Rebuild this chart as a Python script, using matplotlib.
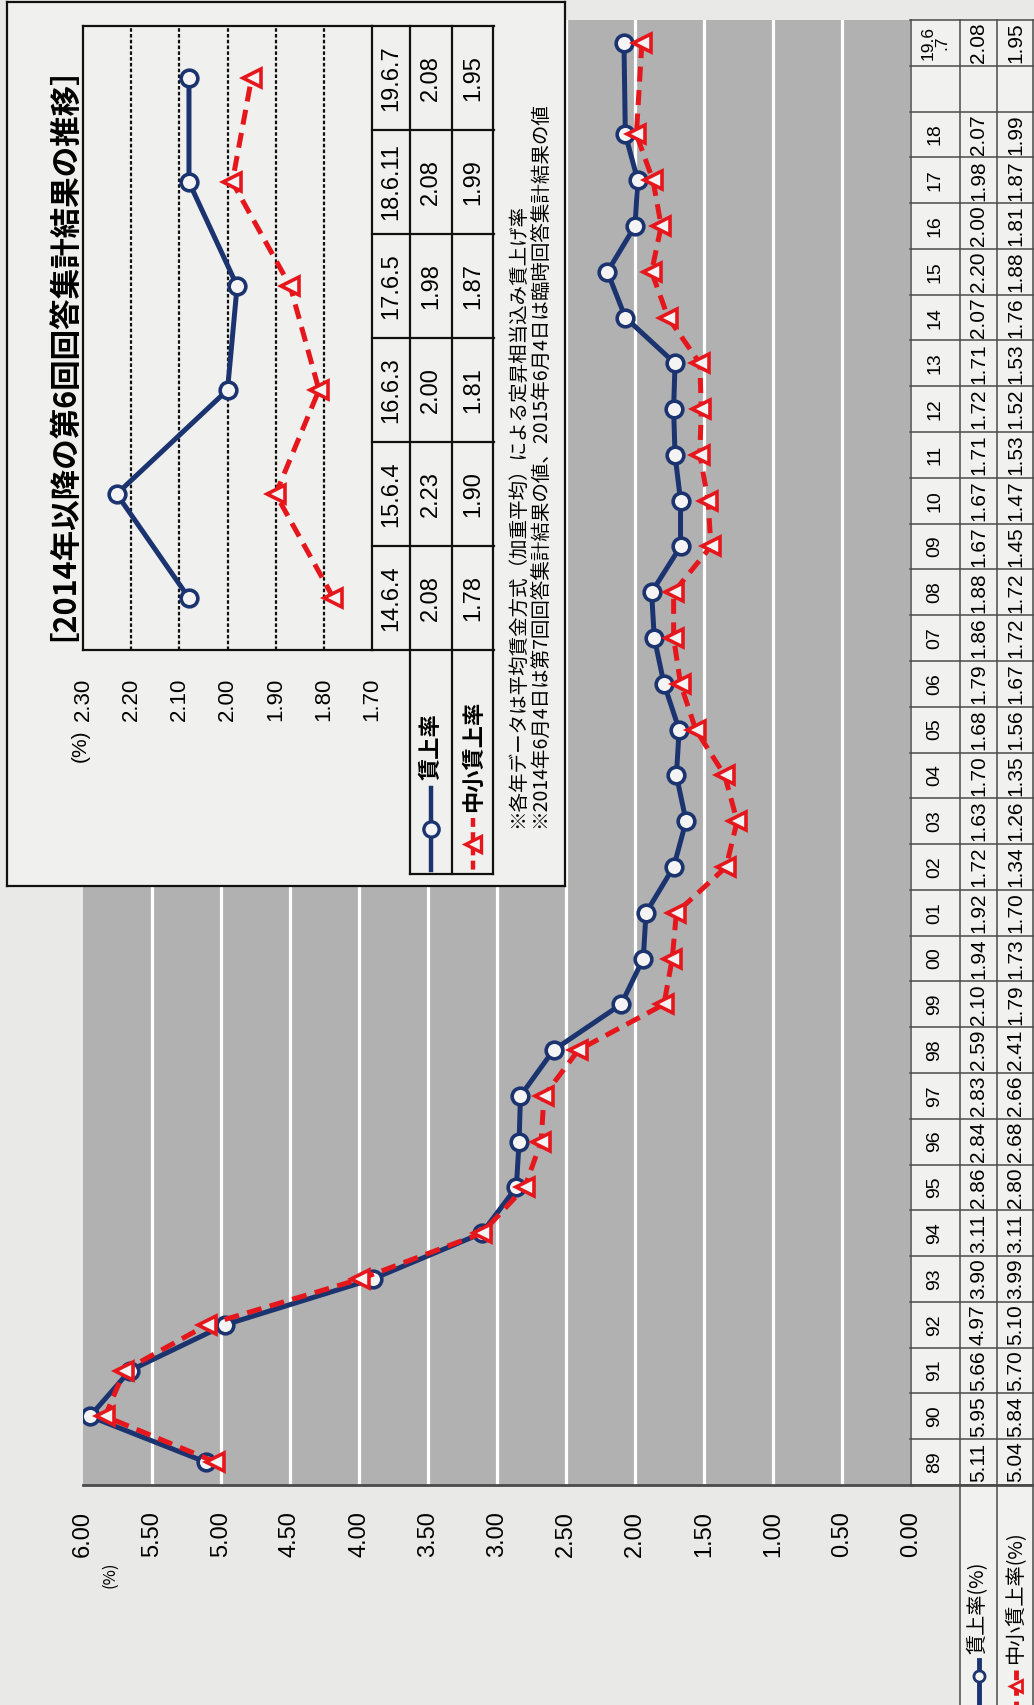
import numpy as np
import matplotlib
matplotlib.use('Agg')
import matplotlib.pyplot as plt
from matplotlib import font_manager as fm

# main chart data (value axis runs 6.00 -> 0.00, years run bottom -> top)
years = ['89', '90', '91', '92', '93', '94', '95', '96', '97', '98', '99', '00',
         '01', '02', '03', '04', '05', '06', '07', '08', '09', '10', '11', '12',
         '13', '14', '15', '16', '17', '18', '', '19.6\n.7']
wage_rate = [5.11, 5.95, 5.66, 4.97, 3.90, 3.11, 2.86, 2.84, 2.83, 2.59, 2.10,
             1.94, 1.92, 1.72, 1.63, 1.70, 1.68, 1.79, 1.86, 1.88, 1.67, 1.67,
             1.71, 1.72, 1.71, 2.07, 2.20, 2.00, 1.98, 2.07, 2.08]
small_rate = [5.04, 5.84, 5.70, 5.10, 3.99, 3.11, 2.80, 2.68, 2.66, 2.41, 1.79,
              1.73, 1.70, 1.34, 1.26, 1.35, 1.56, 1.67, 1.72, 1.72, 1.45, 1.47,
              1.53, 1.52, 1.53, 1.76, 1.88, 1.81, 1.87, 1.99, 1.95]
value_ticks = [6.0, 5.5, 5.0, 4.5, 4.0, 3.5, 3.0, 2.5, 2.0, 1.5, 1.0, 0.5, 0.0]

# inset data
inset_dates = ['14.6.4', '15.6.4', '16.6.3', '17.6.5', '18.6.11', '19.6.7']
inset_wage = [2.08, 2.23, 2.00, 1.98, 2.08, 2.08]
inset_small = [1.78, 1.90, 1.81, 1.87, 1.99, 1.95]
inset_ticks = [2.30, 2.20, 2.10, 2.00, 1.90, 1.80, 1.70]

title = '［2014年以降の第6回回答集計結果の推移］'
notes = ['※各年データは平均賃金方式（加重平均）による定昇相当込み賃上げ率',
         '※2014年6月4日は第7回回答集計結果の値、2015年6月4日は臨時回答集計結果の値']

NAVY = '#1b3470'
RED = '#e5171c'
GRAY = '#b1b1b1'
PAPER = '#e9e9e7'
CELL = '#f1f1ef'
EDGE = '#4a4a4a'
JP = ['Noto Sans CJK JP', 'DejaVu Sans']
font_names = {f.name for f in fm.fontManager.ttflist}
NARROW = 'Liberation Sans Narrow' if 'Liberation Sans Narrow' in font_names else 'Liberation Sans'

W, H = 1034, 1705
fig = plt.figure(figsize=(W / 100, H / 100), dpi=100)
fig.patch.set_facecolor(PAPER)


def px_box(x0, y0, x1, y1):
    return [x0 / W, 1 - y1 / H, (x1 - x0) / W, (y1 - y0) / H]


# ---- main chart ----
ax = fig.add_axes(px_box(83, 20, 911, 1485))
ax.set_facecolor(GRAY)
ax.set_xlim(6, 0)
ax.set_ylim(-0.5, len(years) - 0.5)
for v in value_ticks[1:-1]:
    ax.axvline(v, color='white', lw=2.3, zorder=1)
ax.set_xticks(value_ticks)
ax.set_xticklabels([f'{v:.2f}' for v in value_ticks], rotation=90,
                   fontsize=17, family='Liberation Sans')
ax.tick_params(axis='x', length=0, pad=19)
ax.set_yticks([])
for s in ['top', 'left', 'right']:
    ax.spines[s].set_visible(False)
ax.spines['bottom'].set_color(EDGE)
ax.spines['bottom'].set_linewidth(2)

pos = [i for i, y in enumerate(years) if y]
ax.plot(wage_rate, pos, color=NAVY, lw=3.6, marker='o', ms=12,
        mfc='#f4f4f4', mec=NAVY, mew=2.6, zorder=3)
ax.plot(small_rate, pos, color=RED, lw=3.6, ls=(0, (3.0, 1.7)), marker='<', ms=13,
        mfc='#f4f4f4', mec=RED, mew=2.6, zorder=4)

# ---- main table ----
tax = fig.add_axes(px_box(910, 20, 1034, 1485))
tax.set_facecolor(CELL)
tax.set_xlim(910, 1034)
tax.set_ylim(-0.5, len(years) - 0.5)
tax.set_xticks([])
tax.set_yticks([])
for s in tax.spines.values():
    s.set_visible(False)
for i, y in enumerate(years):
    fs = 12.5 if '\n' in y else 14
    tax.text(935, i, y, rotation=90, ha='center', va='center', fontsize=fs,
             family=NARROW, linespacing=0.85)
for p, w, s in zip(pos, wage_rate, small_rate):
    tax.text(978.5, p, f'{w:.2f}', rotation=90, ha='center', va='center',
             fontsize=15, family=NARROW)
    tax.text(1015.5, p, f'{s:.2f}', rotation=90, ha='center', va='center',
             fontsize=15, family=NARROW)
for b in np.arange(-0.5, len(years), 1):
    tax.plot([910, 1034], [b, b], color=EDGE, lw=1.1, clip_on=False)
for xv in [910.5, 960, 997, 1033]:
    tax.plot([xv, xv], [-0.5, len(years) - 0.5], color=EDGE, lw=1.1, clip_on=False)

# ---- inset frame ----
ibox = fig.add_axes(px_box(7, 2, 565, 886))
ibox.set_facecolor('#f0f0ee')
ibox.set_xticks([])
ibox.set_yticks([])
for s in ibox.spines.values():
    s.set_color('#111111')
    s.set_linewidth(1.6)
ibox.set_zorder(3)

iax = fig.add_axes(px_box(83, 26, 372, 650))
iax.set_facecolor('none')
iax.set_xlim(2.30, 1.70)
iax.set_ylim(-0.5, len(inset_dates) - 0.5)
for v in inset_ticks[1:-1]:
    iax.axvline(v, color='#111111', lw=1.6, ls=(0, (1.6, 1.0)), zorder=1)
iax.set_xticks(inset_ticks)
iax.set_xticklabels([f'{v:.2f}' for v in inset_ticks], rotation=90,
                    fontsize=16, family=NARROW)
iax.tick_params(axis='x', length=0, pad=20)
iax.set_yticks([])
for s in iax.spines.values():
    s.set_color('#111111')
    s.set_linewidth(1.6)
ipos = list(range(len(inset_dates)))
iax.plot(inset_wage, ipos, color=NAVY, lw=3.6, marker='o', ms=12,
         mfc='#f4f4f4', mec=NAVY, mew=2.6, zorder=3)
iax.plot(inset_small, ipos, color=RED, lw=3.6, ls=(0, (3.0, 1.7)), marker='<', ms=13,
         mfc='#f4f4f4', mec=RED, mew=2.6, zorder=4)
iax.set_zorder(4)

itax = fig.add_axes(px_box(372, 26, 494, 650))
itax.set_facecolor('none')
itax.set_xlim(372, 494)
itax.set_ylim(-0.5, len(inset_dates) - 0.5)
itax.set_xticks([])
itax.set_yticks([])
for s in itax.spines.values():
    s.set_visible(False)
for i, d in enumerate(inset_dates):
    itax.text(391, i, d, rotation=90, ha='center', va='center', fontsize=17, family=NARROW)
    itax.text(431, i, f'{inset_wage[i]:.2f}', rotation=90, ha='center', va='center',
              fontsize=17, family=NARROW)
    itax.text(473, i, f'{inset_small[i]:.2f}', rotation=90, ha='center', va='center',
              fontsize=17, family=NARROW)
for b in np.arange(-0.5, len(inset_dates), 1):
    itax.plot([372, 494], [b, b], color='#111111', lw=1.6, clip_on=False)
for xv in [410, 452, 493]:
    itax.plot([xv, xv], [-0.5, len(inset_dates) - 0.5], color='#111111', lw=1.6, clip_on=False)
itax.set_zorder(4)

# ---- overlay in pixel coordinates for free text and legend cells ----
ov = fig.add_axes([0, 0, 1, 1])
ov.set_xlim(0, W)
ov.set_ylim(H, 0)
ov.axis('off')
ov.set_zorder(10)

ov.text(110, 1562, '(%)', rotation=90, rotation_mode='anchor', ha='right',
        va='center', fontsize=12, family=JP)

# main table row headers
for xv in [960, 997, 1033]:
    ov.plot([xv, xv], [1485, H], color=EDGE, lw=1.1)
ov.plot([911, 1034], [1485, 1485], color=EDGE, lw=2)
ov.add_patch(plt.Rectangle((960, 1486), 73, H - 1486, color=CELL, zorder=0))
ov.text(978.5, 1654, '賃上率(%)', rotation=90, rotation_mode='anchor', ha='left',
        va='center', fontsize=14.5, family=JP)
ov.plot([978.5, 978.5], [1660, H], color=NAVY, lw=3.5)
ov.plot([978.5], [1676], marker='o', ms=8, mfc='#f4f4f4', mec=NAVY, mew=2)
ov.text(1015.5, 1664, '中小賃上率(%)', rotation=90, rotation_mode='anchor', ha='left',
        va='center', fontsize=14.5, family=JP)
ov.plot([1015.5, 1015.5], [1670, H], color=RED, lw=3.5, ls=(0, (2, 1.2)))
ov.plot([1015.5], [1686], marker='<', ms=9, mfc='#f4f4f4', mec=RED, mew=2)

# inset title, percent label, notes
ov.text(46, 641, title, rotation=90, rotation_mode='anchor', ha='left',
        va='center', fontsize=22, fontweight='bold', family=JP)
ov.text(80, 730, '(%)', rotation=90, rotation_mode='anchor', ha='right',
        va='center', fontsize=15, family=NARROW)
for k, note in enumerate(notes):
    ov.text(518 + 23 * k, 828, note, rotation=90, rotation_mode='anchor', ha='left',
            va='center', fontsize=14, family=JP)

# inset legend cells
for xv in [410, 452, 493]:
    ov.plot([xv, xv], [650, 874], color='#111111', lw=1.6)
ov.plot([410, 493], [874, 874], color='#111111', lw=1.6)
ov.text(431, 780, '賃上率', rotation=90, rotation_mode='anchor', ha='left',
        va='center', fontsize=16, fontweight='bold', family=JP)
ov.plot([431, 431], [788, 870], color=NAVY, lw=3.2)
ov.plot([431], [829], marker='o', ms=11, mfc='#f4f4f4', mec=NAVY, mew=2.4)
ov.text(473, 812, '中小賃上率', rotation=90, rotation_mode='anchor', ha='left',
        va='center', fontsize=16, fontweight='bold', family=JP)
ov.plot([473, 473], [818, 870], color=RED, lw=3.2, ls=(0, (2, 1.2)))
ov.plot([473], [844], marker='<', ms=11, mfc='#f4f4f4', mec=RED, mew=2.4)

fig.savefig('out.png', dpi=100, facecolor=PAPER)
